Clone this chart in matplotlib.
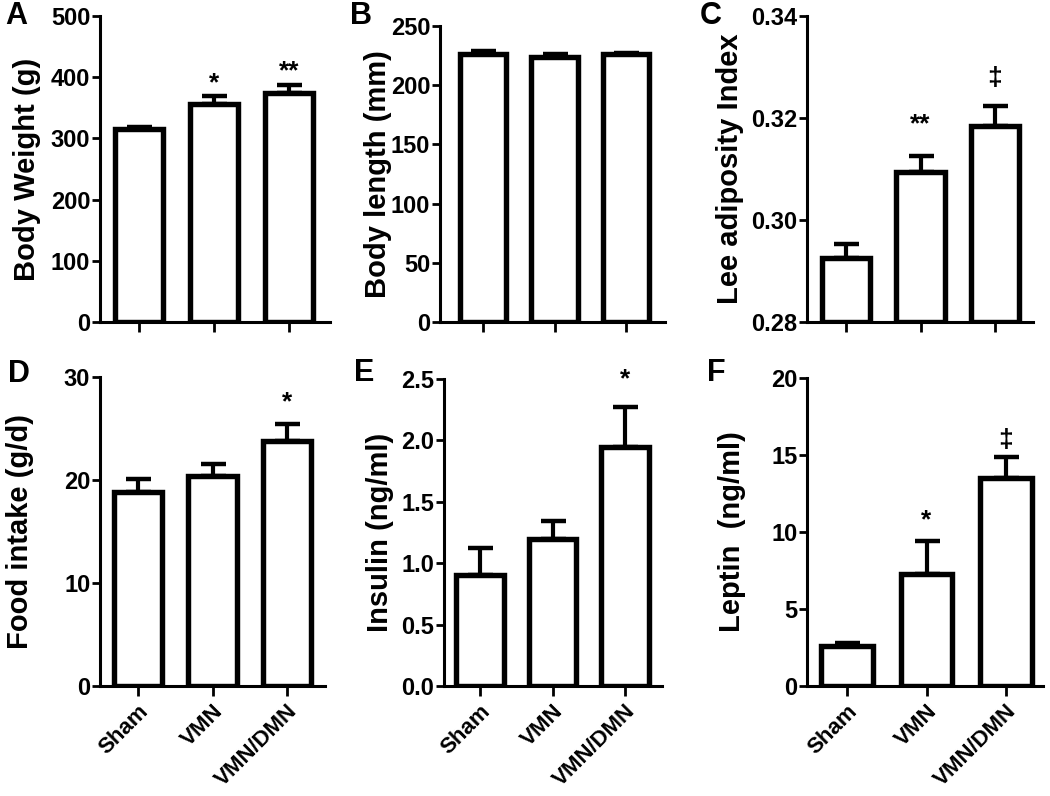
import matplotlib
matplotlib.use("Agg")
import matplotlib.pyplot as plt
import numpy as np

plt.rcParams['font.family'] = ['Liberation Sans', 'DejaVu Sans']
plt.rcParams['font.weight'] = 'bold'

groups = ["Sham", "VMN", "VMN/DMN"]

bw_mean = [315, 357, 374]
bw_err = [3, 13, 13]
bw_sig = ["", "*", "**"]

bl_mean = [226.5, 224, 226]
bl_err = [2, 2, 1.5]
bl_sig = ["", "", ""]

lee_mean = [0.2926, 0.3095, 0.3185]
lee_err = [0.0026, 0.0030, 0.0039]
lee_sig = ["", "**", "\u2021"]

food_mean = [18.8, 20.4, 23.8]
food_err = [1.3, 1.2, 1.6]
food_sig = ["", "", "*"]

ins_mean = [0.90, 1.20, 1.95]
ins_err = [0.22, 0.14, 0.32]
ins_sig = ["", "", "*"]

lep_mean = [2.6, 7.3, 13.5]
lep_err = [0.2, 2.1, 1.4]
lep_sig = ["", "*", "\u2021"]

W, H = 1050, 796
fig = plt.figure(figsize=(W / 100, H / 100), dpi=100)

def add_ax(l, r, t, b):
    return fig.add_axes([l / W, 1 - b / H, (r - l) / W, (b - t) / H])

panels = [
    dict(letter="A", box=(100, 330, 16, 322), tx=(139, 289), mean=bw_mean, err=bw_err, sig=bw_sig,
         ylim=(0, 500), yticks=[0, 100, 200, 300, 400, 500], fmt="{:.0f}", ylabel="Body Weight (g)",
         lx=27, off=[0, 12, 14], let=(16, 16), xl=False),
    dict(letter="B", box=(440, 665, 26, 322), tx=(483, 626), mean=bl_mean, err=bl_err, sig=bl_sig,
         ylim=(0, 250), yticks=[0, 50, 100, 150, 200, 250], fmt="{:.0f}", ylabel="Body length (mm)",
         lx=378, off=[0, 0, 0], let=(361, 16), xl=False),
    dict(letter="C", box=(807, 1033, 16, 322), tx=(846, 995), mean=lee_mean, err=lee_err, sig=lee_sig,
         ylim=(0.28, 0.34), yticks=[0.28, 0.30, 0.32, 0.34], fmt="{:.2f}", ylabel="Lee adiposity Index",
         lx=730, off=[0, 32, 28], let=(711, 16), xl=False),
    dict(letter="D", box=(100, 325, 377, 686), tx=(138, 287), mean=food_mean, err=food_err, sig=food_sig,
         ylim=(0, 30), yticks=[0, 10, 20, 30], fmt="{:.0f}", ylabel="Food intake (g/d)",
         lx=20, off=[0, 0, 22], let=(19, 374), xl=True),
    dict(letter="E", box=(444, 662, 379, 686), tx=(480, 625), mean=ins_mean, err=ins_err, sig=ins_sig,
         ylim=(0, 2.5), yticks=[0.0, 0.5, 1.0, 1.5, 2.0, 2.5], fmt="{:.1f}", ylabel="Insulin (ng/ml)",
         lx=380, off=[0, 0, 28], let=(364, 373), xl=True),
    dict(letter="F", box=(807, 1043, 378, 686), tx=(847, 1006), mean=lep_mean, err=lep_err, sig=lep_sig,
         ylim=(0, 20), yticks=[0, 5, 10, 15, 20], fmt="{:.0f}", ylabel="Leptin  (ng/ml)",
         lx=732, off=[0, 21, 17], let=(716, 373), xl=True),
]

x = np.arange(len(groups))
for p in panels:
    l, r, t, b = p["box"]
    ax = add_ax(l, r, t, b)
    t0, t2 = p["tx"]
    sp = (t2 - t0) / 2.0
    ax.set_xlim(-(t0 - l) / sp, 2 + (r - t2) / sp)
    ax.set_ylim(*p["ylim"])
    ax.errorbar(x, p["mean"], yerr=[[0] * 3, p["err"]], fmt="none", ecolor="black",
                elinewidth=3, capsize=9, capthick=3.2, zorder=1)
    base = p["ylim"][0]
    ax.bar(x, np.array(p["mean"]) - base, bottom=base, width=0.65, color="white",
           edgecolor="black", linewidth=3.9, zorder=2)
    for i in range(3):
        if p["sig"][i]:
            ax.annotate(p["sig"][i], (x[i], p["mean"][i] + p["err"][i]),
                        xytext=(0, p["off"][i] * 0.72), textcoords="offset points",
                        ha="center", va="center", fontsize=19, fontweight="bold", zorder=3)
    for s in ["top", "right"]:
        ax.spines[s].set_visible(False)
    for s in ["left", "bottom"]:
        ax.spines[s].set_linewidth(2.2)
    ax.set_yticks(p["yticks"])
    ax.set_yticklabels([p["fmt"].format(v) for v in p["yticks"]], fontsize=17, fontweight="bold")
    ax.tick_params(axis="y", length=6, width=2, pad=1)
    ax.tick_params(axis="x", length=7.5, width=2, pad=3)
    ax.set_xticks(x)
    if p["xl"]:
        ax.set_xticklabels(groups, rotation=45, ha="right", rotation_mode="anchor",
                           fontsize=16, fontweight="bold")
    else:
        ax.set_xticklabels([])
    fig.text(p["lx"] / W, 1 - ((t + b) / 2) / H, p["ylabel"], rotation=90, ha="center", va="center",
             fontsize=21, fontweight="bold")
    fig.text(p["let"][0] / W, 1 - p["let"][1] / H, p["letter"], ha="center", va="center",
             fontsize=22, fontweight="bold")

fig.savefig("out.png", dpi=100)
